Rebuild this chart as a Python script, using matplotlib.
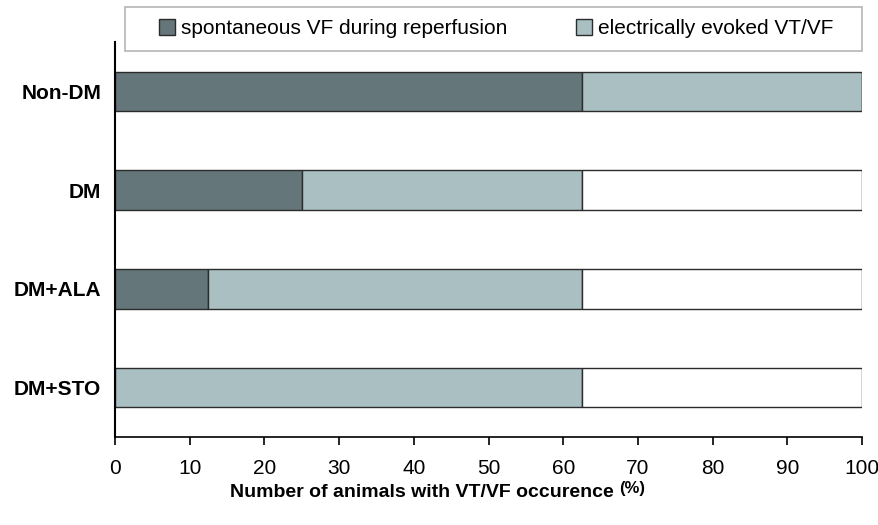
import matplotlib
matplotlib.use('Agg')
import matplotlib.pyplot as plt
from matplotlib.patches import Rectangle
import numpy as np

groups = ['Non-DM', 'DM', 'DM+ALA', 'DM+STO']
spontaneous = [62.5, 25.0, 12.5, 0.0]
evoked = [37.5, 37.5, 50.0, 62.5]
labels = ['spontaneous VF during reperfusion', 'electrically evoked VT/VF']

plt.rcParams['font.family'] = ['Liberation Sans', 'DejaVu Sans']

dark = '#65767b'
light = '#a9bfc1'
edge = '#2b2b2b'

fig = plt.figure(figsize=(8.79, 5.25), dpi=100)
ax = fig.add_axes([0.1308, 0.1676, 0.8499, 0.7524])

y = np.arange(len(groups))
spont = np.array(spontaneous)
evo = np.array(evoked)
rest = 100 - spont - evo
h = 0.4

ax.barh(y, spont, h, color=dark, edgecolor=edge, linewidth=1, label=labels[0])
ax.barh(y, evo, h, left=spont, color=light, edgecolor=edge, linewidth=1, label=labels[1])
ax.barh(y, rest, h, left=spont + evo, color='white', edgecolor=edge, linewidth=1)

ax.set_ylim(3.5, -0.5)
ax.set_xlim(0, 100)
ax.set_yticks(y)
ax.set_yticklabels(groups, fontsize=15, fontweight='bold')
ax.tick_params(axis='y', length=0, pad=10)
ax.set_xticks(np.arange(0, 101, 10))
ax.tick_params(axis='x', labelsize=15, length=6, width=1.2, pad=10)
for s in ['top', 'right']:
    ax.spines[s].set_visible(False)
ax.spines['left'].set_linewidth(1.5)
ax.spines['bottom'].set_linewidth(1.2)

# x label with raised (%)
xl = fig.text(0.48, 0.045, 'Number of animals with VT/VF occurence', ha='center', va='bottom',
              fontsize=14, fontweight='bold')
ax.annotate('(%)', xy=(1, 0), xycoords=xl, xytext=(4, 4), textcoords='offset points',
            ha='left', va='bottom', fontsize=12, fontweight='bold')

# legend: frame drawn separately so entries can sit like the original
fig.patches.append(Rectangle((0.142, 0.903), 0.839, 0.084, transform=fig.transFigure,
                             facecolor='white', edgecolor='#b5b5b5', linewidth=1.2))
leg = fig.legend(loc='center left', bbox_to_anchor=(0.181, 0.945),
                 ncol=2, frameon=False, fontsize=15, handlelength=0.75,
                 handleheight=0.75, handletextpad=0.3, borderaxespad=0, borderpad=0,
                 columnspacing=3.3)

fig.savefig('out.png', dpi=100)
